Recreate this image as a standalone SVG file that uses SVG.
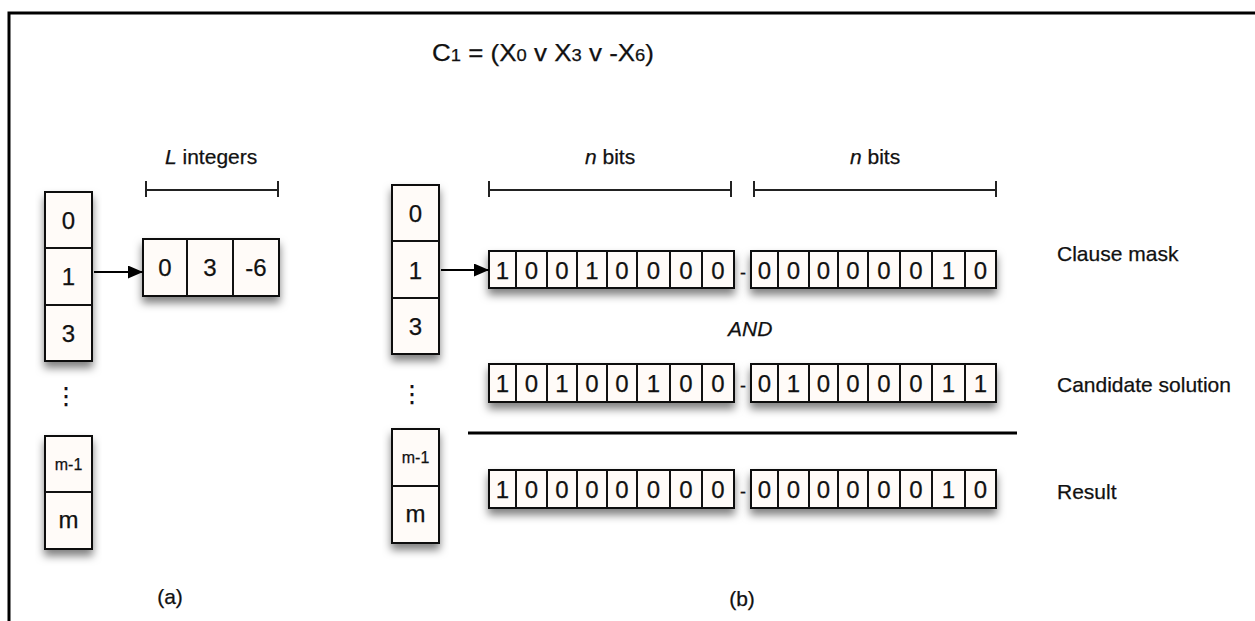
<svg xmlns="http://www.w3.org/2000/svg" width="1255" height="621" viewBox="0 0 1255 621">
<defs>
<filter id="sh" x="-20%" y="-30%" width="140%" height="190%">
<feDropShadow dx="0" dy="6" stdDeviation="4" flood-color="#000" flood-opacity="0.5"/>
</filter>
<marker id="ah" markerWidth="15" markerHeight="13" refX="15" refY="6.5" orient="auto" markerUnits="userSpaceOnUse">
<path d="M0,0 L15,6.5 L0,13 Z" fill="#000"/>
</marker>
</defs>
<style>
text{font-family:"Liberation Sans",Arial,Helvetica,sans-serif;fill:#111;stroke:#111;stroke-width:0.25}
.box{fill:#fffbf8;stroke:#111;stroke-width:2}
.div{stroke:#111;stroke-width:2}
.d{font-size:24px;text-anchor:middle}
.lbl{font-size:21px}
.sm{font-size:16px;text-anchor:middle}
.br{stroke:#222;stroke-width:2;fill:none}
</style>
<rect width="1255" height="621" fill="#fff"/>
<path d="M9,640 L9,13 L1270,13" fill="none" stroke="#000" stroke-width="3"/>

<text id="title" x="432" y="61" font-size="24" textLength="222" lengthAdjust="spacingAndGlyphs">C<tspan font-size="17">1</tspan> = (X<tspan font-size="17">0</tspan> v X<tspan font-size="17">3</tspan> v -X<tspan font-size="17">6</tspan>)</text>

<!-- (a) column -->
<g id="colA">
<g filter="url(#sh)">
<rect class="box" x="45" y="192" width="47" height="169"/>
</g>
<line class="div" x1="45" y1="248" x2="92" y2="248"/>
<line class="div" x1="45" y1="305" x2="92" y2="305"/>
<text class="d" x="68.5" y="229">0</text>
<text class="d" x="68.5" y="285">1</text>
<text class="d" x="68.5" y="342">3</text>
<text class="d" x="66" y="404">⋮</text>
<g filter="url(#sh)">
<rect class="box" x="45" y="436" width="47" height="113"/>
</g>
<line class="div" x1="45" y1="492" x2="92" y2="492"/>
<text class="sm" x="68.5" y="470">m-1</text>
<text class="d" x="68.5" y="528">m</text>
</g>

<g id="arrA">
<g filter="url(#sh)">
<rect class="box" x="143" y="239" width="136" height="57"/>
</g>
<line class="div" x1="187" y1="239" x2="187" y2="296"/>
<line class="div" x1="233" y1="239" x2="233" y2="296"/>
<text class="d" x="165" y="276">0</text>
<text class="d" x="210" y="276">3</text>
<text class="d" x="256" y="276">-6</text>
</g>

<g id="bracketL">
<path class="br" d="M146,181 V197 M146,190 H278 M278,181 V197"/>
<text class="lbl" x="165" y="164"><tspan font-style="italic">L</tspan> integers</text>
</g>

<text id="labelA" class="lbl" x="170" y="604" text-anchor="middle">(a)</text>

<!-- (b) column -->
<g id="colB">
<g filter="url(#sh)">
<rect class="box" x="392" y="185" width="47" height="169"/>
</g>
<line class="div" x1="392" y1="241" x2="439" y2="241"/>
<line class="div" x1="392" y1="298" x2="439" y2="298"/>
<text class="d" x="415.5" y="222">0</text>
<text class="d" x="415.5" y="279">1</text>
<text class="d" x="415.5" y="335">3</text>
<text class="d" x="412" y="402">⋮</text>
<g filter="url(#sh)">
<rect class="box" x="392" y="429" width="47" height="114"/>
</g>
<line class="div" x1="392" y1="486" x2="439" y2="486"/>
<text class="sm" x="415.5" y="463">m-1</text>
<text class="d" x="415.5" y="522">m</text>
</g>

<g id="bracketN1">
<path class="br" d="M489,181 V197 M489,190 H731 M731,181 V197"/>
<text class="lbl" x="585" y="164"><tspan font-style="italic">n</tspan> bits</text>
</g>
<g id="bracketN2">
<path class="br" d="M754,181 V197 M754,190 H996 M996,181 V197"/>
<text class="lbl" x="850" y="164"><tspan font-style="italic">n</tspan> bits</text>
</g>

<!-- clause mask row -->
<g id="rowClause">
<g filter="url(#sh)"><rect class="box" x="489" y="251" width="245" height="37"/></g>
<path class="div" d="M516,251V288M547,251V288M577,251V288M607,251V288M637,251V288M670,251V288M702,251V288"/>
<g filter="url(#sh)"><rect class="box" x="751" y="251" width="245" height="37"/></g>
<path class="div" d="M778,251V288M809,251V288M838,251V288M868,251V288M900,251V288M932,251V288M965,251V288"/>
<text class="d" y="278.5"><tspan x="502.5">1</tspan><tspan x="531.5">0</tspan><tspan x="562">0</tspan><tspan x="592">1</tspan><tspan x="622">0</tspan><tspan x="653.5">0</tspan><tspan x="686">0</tspan><tspan x="718">0</tspan><tspan x="743" font-size="18">-</tspan><tspan x="764.5">0</tspan><tspan x="793.5">0</tspan><tspan x="823.5">0</tspan><tspan x="853">0</tspan><tspan x="884">0</tspan><tspan x="916">0</tspan><tspan x="948.5">1</tspan><tspan x="980.5">0</tspan></text>
</g>
<text class="lbl" x="1057" y="261">Clause mask</text>

<text class="lbl" x="728" y="336" font-style="italic">AND</text>

<!-- candidate row -->
<g id="rowCandidate">
<g filter="url(#sh)"><rect class="box" x="489" y="364" width="245" height="38"/></g>
<path class="div" d="M516,364V402M547,364V402M577,364V402M607,364V402M637,364V402M670,364V402M702,364V402"/>
<g filter="url(#sh)"><rect class="box" x="751" y="364" width="245" height="38"/></g>
<path class="div" d="M778,364V402M809,364V402M838,364V402M868,364V402M900,364V402M932,364V402M965,364V402"/>
<text class="d" y="392"><tspan x="502.5">1</tspan><tspan x="531.5">0</tspan><tspan x="562">1</tspan><tspan x="592">0</tspan><tspan x="622">0</tspan><tspan x="653.5">1</tspan><tspan x="686">0</tspan><tspan x="718">0</tspan><tspan x="743" font-size="18">-</tspan><tspan x="764.5">0</tspan><tspan x="793.5">1</tspan><tspan x="823.5">0</tspan><tspan x="853">0</tspan><tspan x="884">0</tspan><tspan x="916">0</tspan><tspan x="948.5">1</tspan><tspan x="980.5">1</tspan></text>
</g>
<text class="lbl" x="1057" y="392">Candidate solution</text>

<line id="sep" x1="468" y1="433" x2="1017" y2="433" stroke="#000" stroke-width="3"/>

<!-- result row -->
<g id="rowResult">
<g filter="url(#sh)"><rect class="box" x="489" y="470" width="245" height="38"/></g>
<path class="div" d="M516,470V508M547,470V508M577,470V508M607,470V508M637,470V508M670,470V508M702,470V508"/>
<g filter="url(#sh)"><rect class="box" x="751" y="470" width="245" height="38"/></g>
<path class="div" d="M778,470V508M809,470V508M838,470V508M868,470V508M900,470V508M932,470V508M965,470V508"/>
<text class="d" y="498"><tspan x="502.5">1</tspan><tspan x="531.5">0</tspan><tspan x="562">0</tspan><tspan x="592">0</tspan><tspan x="622">0</tspan><tspan x="653.5">0</tspan><tspan x="686">0</tspan><tspan x="718">0</tspan><tspan x="743" font-size="18">-</tspan><tspan x="764.5">0</tspan><tspan x="793.5">0</tspan><tspan x="823.5">0</tspan><tspan x="853">0</tspan><tspan x="884">0</tspan><tspan x="916">0</tspan><tspan x="948.5">1</tspan><tspan x="980.5">0</tspan></text>
</g>
<text class="lbl" x="1057" y="499">Result</text>

<text id="labelB" class="lbl" x="742" y="606" text-anchor="middle">(b)</text>

<g id="connectors">
<line x1="94" y1="272" x2="143" y2="272" stroke="#000" stroke-width="2" marker-end="url(#ah)"/>
<line x1="441" y1="270" x2="489" y2="270" stroke="#000" stroke-width="2" marker-end="url(#ah)"/>
</g>
</svg>
